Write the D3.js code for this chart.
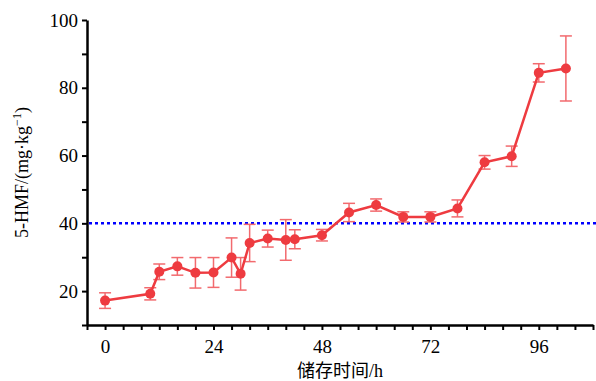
<!DOCTYPE html>
<html>
<head>
<meta charset="utf-8">
<script src="https://cdn.jsdelivr.net/npm/d3@7"></script>
<style>
  body { margin: 0; background: #fff; }
  text { font-family: "Liberation Serif", "Noto Sans CJK SC", serif; }
</style>
</head>
<body>
<svg id="chart"></svg>
<script>
// storage hours, 5-HMF mean and standard deviation
const hours = [0, 10, 12, 16, 20, 24, 28, 30, 32, 36, 40, 42, 48, 54, 60, 66, 72, 78, 84, 90, 96, 102];
const hmf = [17.2, 19.2, 25.7, 27.3, 25.4, 25.5, 29.9, 25.1, 34.2, 35.5, 35.1, 35.3, 36.5, 43.2, 45.4, 41.9, 41.9, 44.4, 58.0, 59.8, 84.4, 85.7];
const sd = [2.3, 1.8, 2.3, 2.6, 4.5, 4.4, 5.8, 4.8, 5.5, 2.5, 6.0, 2.8, 1.7, 2.7, 1.8, 1.5, 1.5, 2.5, 2.0, 3.0, 2.7, 9.6];
const xTicks = [0, 24, 48, 72, 96];
const yTicks = [20, 40, 60, 80, 100];
const limit = 40;

const width = 596, height = 381;
const margin = { top: 20, right: 3, bottom: 56, left: 87 };

const svg = d3.select("#chart")
    .attr("width", width)
    .attr("height", height);

const x = d3.scaleLinear().domain([-4, 108]).range([margin.left, width - margin.right]);
const y = d3.scaleLinear().domain([10, 100]).range([height - margin.bottom, margin.top]);

const red = "#ee3b40";
const redLight = "#f26a6e";

// x axis: minor ticks every 4 h, labels every 24 h
const xAxis = svg.append("g")
    .attr("transform", `translate(0, ${y(10)})`)
    .call(d3.axisBottom(x).tickValues(d3.range(-4, 109, 4)).tickSize(5).tickSizeOuter(0)
        .tickFormat(d => xTicks.includes(d) ? d : ""));

// y axis: minor ticks every 10
const yAxis = svg.append("g")
    .attr("transform", `translate(${x(-4)}, 0)`)
    .call(d3.axisLeft(y).tickValues(d3.range(10, 101, 10)).tickSize(5).tickSizeOuter(0)
        .tickFormat(d => yTicks.includes(d) ? d : ""));

[xAxis, yAxis].forEach(g => {
    g.select(".domain").attr("stroke", "#000").attr("stroke-width", 2.5);
    g.selectAll(".tick line").attr("stroke", "#000").attr("stroke-width", 2);
    g.selectAll(".tick text").attr("fill", "#000").style("font-size", "19px");
});
xAxis.selectAll(".tick text").attr("dy", "1.05em");
yAxis.selectAll(".tick text").attr("x", -9);

// 40 mg/kg reference line
svg.append("line")
    .attr("x1", x(-4) + 2).attr("x2", width)
    .attr("y1", y(limit)).attr("y2", y(limit))
    .attr("stroke", "#0000ff")
    .attr("stroke-width", 2.5)
    .attr("stroke-dasharray", "3,3");

const points = hours.map((h, i) => ({ h, v: hmf[i], s: sd[i] }));

// error bars
const err = svg.append("g").attr("stroke", redLight).attr("stroke-width", 1.5);
points.forEach(d => {
    err.append("line")
        .attr("x1", x(d.h)).attr("x2", x(d.h))
        .attr("y1", y(d.v + d.s)).attr("y2", y(d.v - d.s));
    [d.v + d.s, d.v - d.s].forEach(v => {
        err.append("line")
            .attr("x1", x(d.h) - 6).attr("x2", x(d.h) + 6)
            .attr("y1", y(v)).attr("y2", y(v));
    });
});

// mean line and markers
svg.append("path")
    .datum(points)
    .attr("fill", "none")
    .attr("stroke", red)
    .attr("stroke-width", 2.5)
    .attr("d", d3.line().x(d => x(d.h)).y(d => y(d.v)));

svg.selectAll(".dot")
    .data(points)
    .enter()
    .append("circle")
    .attr("class", "dot")
    .attr("cx", d => x(d.h))
    .attr("cy", d => y(d.v))
    .attr("r", 5)
    .attr("fill", red);

// axis titles
svg.append("text")
    .attr("x", x(48) + 18)
    .attr("y", 377)
    .attr("text-anchor", "middle")
    .style("font-size", "18px")
    .text("储存时间/h");

const yTitle = svg.append("text")
    .attr("transform", `translate(28, ${y(55)}) rotate(-90)`)
    .attr("text-anchor", "middle")
    .style("font-size", "18px");
yTitle.append("tspan").text("5-HMF/(mg·kg");
yTitle.append("tspan").attr("dy", -7).style("font-size", "12px").text("−1");
yTitle.append("tspan").attr("dy", 7).text(")");
</script>
</body>
</html>
